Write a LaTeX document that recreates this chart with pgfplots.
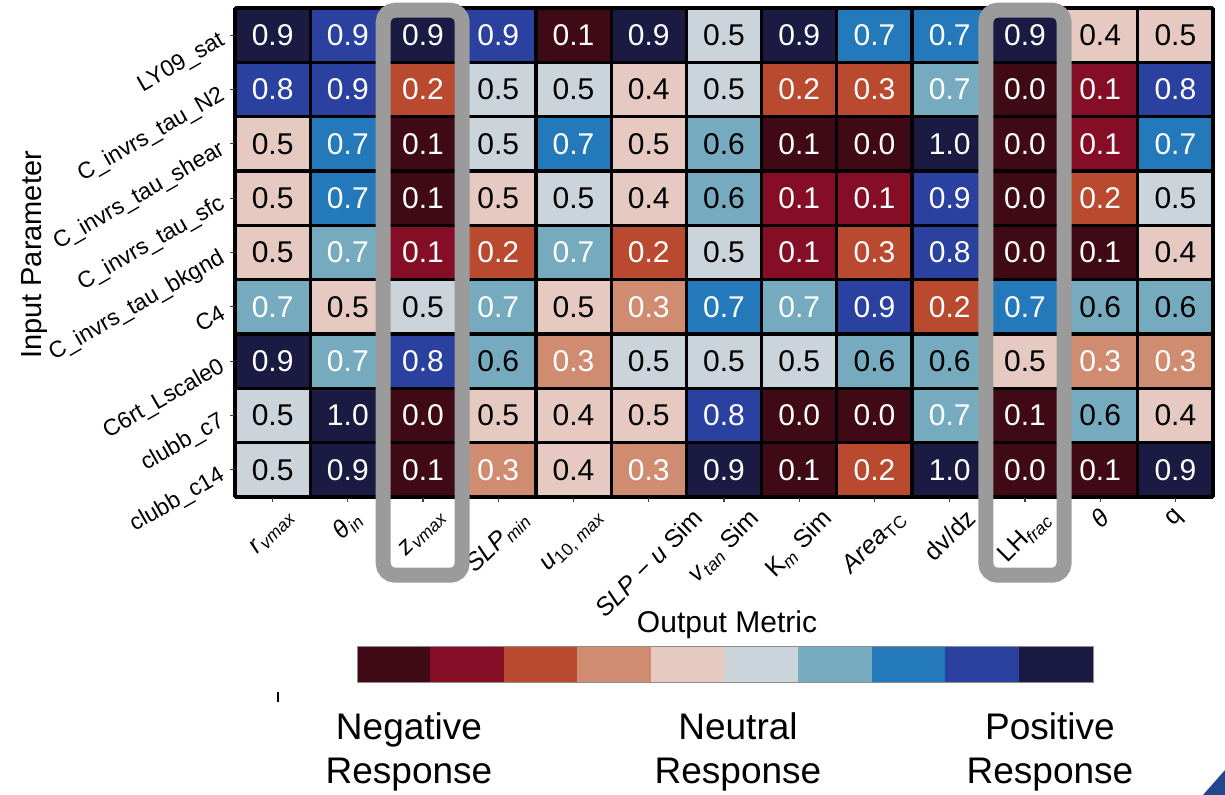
\documentclass[border=0pt]{standalone}
\usepackage{pgfplots}
\usepackage{pgfplotstable}
\pgfplotsset{compat=1.18}
\usepackage{fontspec}
\setmainfont{Liberation Sans}
\definecolor{hl}{RGB}{155,155,155}
\definecolor{tri}{RGB}{35,70,140}
\newcommand\R[1]{\rotatebox{45}{#1}}

% x = output metric index, y = input parameter index, c = colour class (0..9), lab = shown value, w = 1 for white text
\pgfplotstableread{
x y c lab w
0 0 9 0.9 1
1 0 8 0.9 1
2 0 9 0.9 1
3 0 8 0.9 1
4 0 0 0.1 1
5 0 9 0.9 1
6 0 5 0.5 0
7 0 9 0.9 1
8 0 7 0.7 1
9 0 7 0.7 1
10 0 9 0.9 1
11 0 4 0.4 0
12 0 4 0.5 0
0 1 8 0.8 1
1 1 8 0.9 1
2 1 2 0.2 1
3 1 5 0.5 0
4 1 5 0.5 0
5 1 4 0.4 0
6 1 5 0.5 0
7 1 2 0.2 1
8 1 2 0.3 1
9 1 6 0.7 1
10 1 0 0.0 1
11 1 1 0.1 1
12 1 8 0.8 1
0 2 4 0.5 0
1 2 7 0.7 1
2 2 0 0.1 1
3 2 5 0.5 0
4 2 7 0.7 1
5 2 4 0.5 0
6 2 6 0.6 0
7 2 0 0.1 1
8 2 0 0.0 1
9 2 9 1.0 1
10 2 0 0.0 1
11 2 1 0.1 1
12 2 7 0.7 1
0 3 4 0.5 0
1 3 7 0.7 1
2 3 0 0.1 1
3 3 4 0.5 0
4 3 5 0.5 0
5 3 4 0.4 0
6 3 6 0.6 0
7 3 1 0.1 1
8 3 1 0.1 1
9 3 8 0.9 1
10 3 0 0.0 1
11 3 2 0.2 1
12 3 5 0.5 0
0 4 4 0.5 0
1 4 6 0.7 1
2 4 1 0.1 1
3 4 2 0.2 1
4 4 6 0.7 1
5 4 2 0.2 1
6 4 5 0.5 0
7 4 1 0.1 1
8 4 2 0.3 1
9 4 8 0.8 1
10 4 0 0.0 1
11 4 0 0.1 1
12 4 4 0.4 0
0 5 6 0.7 1
1 5 4 0.5 0
2 5 5 0.5 0
3 5 6 0.7 1
4 5 4 0.5 0
5 5 3 0.3 1
6 5 7 0.7 1
7 5 6 0.7 1
8 5 8 0.9 1
9 5 2 0.2 1
10 5 7 0.7 1
11 5 6 0.6 0
12 5 6 0.6 0
0 6 9 0.9 1
1 6 6 0.7 1
2 6 8 0.8 1
3 6 6 0.6 0
4 6 3 0.3 1
5 6 5 0.5 0
6 6 5 0.5 0
7 6 5 0.5 0
8 6 6 0.6 0
9 6 6 0.6 0
10 6 4 0.5 0
11 6 3 0.3 1
12 6 3 0.3 1
0 7 5 0.5 0
1 7 9 1.0 1
2 7 0 0.0 1
3 7 4 0.5 0
4 7 4 0.4 0
5 7 4 0.5 0
6 7 8 0.8 1
7 7 0 0.0 1
8 7 0 0.0 1
9 7 6 0.7 1
10 7 0 0.1 1
11 7 6 0.6 0
12 7 4 0.4 0
0 8 5 0.5 0
1 8 9 0.9 1
2 8 0 0.1 1
3 8 3 0.3 1
4 8 4 0.4 0
5 8 3 0.3 1
6 8 9 0.9 1
7 8 0 0.1 1
8 8 2 0.2 1
9 8 9 1.0 1
10 8 0 0.0 1
11 8 0 0.1 1
12 8 9 0.9 1
}\cells

% colour bar: one rectangle (4 corners) per colour class
\pgfplotstableread{
x y c
-0.5 0 0
0.5 0 0
0.5 1 0
-0.5 1 0
0.5 0 1
1.5 0 1
1.5 1 1
0.5 1 1
1.5 0 2
2.5 0 2
2.5 1 2
1.5 1 2
2.5 0 3
3.5 0 3
3.5 1 3
2.5 1 3
3.5 0 4
4.5 0 4
4.5 1 4
3.5 1 4
4.5 0 5
5.5 0 5
5.5 1 5
4.5 1 5
5.5 0 6
6.5 0 6
6.5 1 6
5.5 1 6
6.5 0 7
7.5 0 7
7.5 1 7
6.5 1 7
7.5 0 8
8.5 0 8
8.5 1 8
7.5 1 8
8.5 0 9
9.5 0 9
9.5 1 9
8.5 1 9
}\cbar

\pgfplotsset{
  respmap/.style={
    colormap={resp}{rgb255=(63,10,21) rgb255=(134,13,38) rgb255=(185,73,47)
      rgb255=(208,140,113) rgb255=(230,202,194) rgb255=(202,212,218)
      rgb255=(118,171,191) rgb255=(36,121,186) rgb255=(42,65,160) rgb255=(26,26,66)},
    point meta min=0, point meta max=9,
  }
}

\begin{document}
\begin{tikzpicture}
\useasboundingbox (0,0) rectangle (612.5pt,397.5pt);

\begin{axis}[
  respmap,
  at={(117.5pt,149pt)}, anchor=south west,
  width=489pt, height=244.5pt, scale only axis,
  xmin=-0.5, xmax=12.5, ymin=-0.5, ymax=8.5, y dir=reverse,
  xtick={0,...,12}, ytick={0,...,8},
  xtick pos=left, ytick pos=left,
  tick align=outside, major tick length=2.5pt,
  tick style={black!75, line width=0.6pt},
  minor xtick={-0.5,0.5,...,12.5}, minor ytick={-0.5,0.5,...,8.5},
  minor tick length=0pt,
  xminorgrids, yminorgrids,
  minor grid style={black, line width=1.6pt},
  axis line style={black, line width=1pt},
  axis on top,
  xticklabels={
    {\R{\textit{r}\textsubscript{\textit{vmax}}}},
    {\R{\textit{θ}\textsubscript{\textit{in}}}},
    {\R{\textit{z}\textsubscript{\textit{vmax}}}},
    {\R{\textit{SLP}\textsubscript{\textit{min}}}},
    {\R{\textit{u}\textsubscript{10, \textit{max}}}},
    {\R{\textit{SLP} − \textit{u} Sim}},
    {\R{\textit{v}\textsubscript{\textit{tan}} Sim}},
    {\R{K\textsubscript{\textit{m}} Sim}},
    {\R{\textit{Area}\textsubscript{TC}}},
    {\R{dv/dz}},
    {\R{LH\textsubscript{\textit{frac}}}},
    {\R{\textit{θ}}},
    {\R{q}}},
  yticklabels={LY09\_sat, C\_invrs\_tau\_N2, C\_invrs\_tau\_shear, C\_invrs\_tau\_sfc,
    C\_invrs\_tau\_bkgnd, C4, C6rt\_Lscale0, clubb\_c7, clubb\_c14},
  xticklabel style={anchor=north, inner sep=1pt, yshift=-1.5pt, font=\fontsize{12.5}{14}\selectfont},
  yticklabel style={rotate=30, anchor=east, inner sep=1pt, xshift=-3pt, font=\fontsize{11.5}{13}\selectfont},
]
\addplot[matrix plot*, mesh/cols=13, mesh/rows=9, point meta=explicit]
  table[x=x, y=y, meta=c]{\cells};
\addplot[only marks, mark=none, point meta=explicit symbolic,
  visualization depends on={\thisrow{w} \as \wt},
  nodes near coords={\ifdim\wt pt>0.5pt\color{white}\else\color{black}\fi\pgfplotspointmeta},
  nodes near coords style={anchor=center, inner sep=0pt,
    font=\fontsize{15}{17}\selectfont}]
  table[x=x, y=y, meta=lab]{\cells};
\coordinate (a1) at (axis cs:1.47,-0.46);
\coordinate (a2) at (axis cs:2.52,9.94);
\coordinate (b1) at (axis cs:9.48,-0.46);
\coordinate (b2) at (axis cs:10.52,9.94);
\end{axis}

\draw[hl, line width=7.5pt, rounded corners=6pt] (a1) rectangle (a2);
\draw[hl, line width=7.5pt, rounded corners=6pt] (b1) rectangle (b2);

\begin{axis}[
  respmap,
  at={(178.5pt,56pt)}, anchor=south west,
  width=368pt, height=18pt, scale only axis,
  xmin=-0.5, xmax=9.5, ymin=0, ymax=1,
  ticks=none,
  axis line style={black!45, line width=0.5pt},
  axis on top,
]
\addplot[patch, patch type=rectangle, shader=flat, point meta=explicit]
  table[x=x, y=y, meta=c]{\cbar};
\end{axis}

\node[rotate=90, font=\fontsize{14.5}{16}\selectfont] at (17.5pt,270pt) {Input Parameter};
\node[font=\fontsize{15}{17}\selectfont] at (363.5pt,85pt) {Output Metric};

\node[anchor=base, font=\fontsize{18.5}{21}\selectfont, inner sep=0pt] at (204.5pt,27.5pt) {Negative};
\node[anchor=base, font=\fontsize{18.5}{21}\selectfont, inner sep=0pt] at (204.5pt,5.5pt) {Response};
\node[anchor=base, font=\fontsize{18.5}{21}\selectfont, inner sep=0pt] at (369pt,27.5pt) {Neutral};
\node[anchor=base, font=\fontsize{18.5}{21}\selectfont, inner sep=0pt] at (369pt,5.5pt) {Response};
\node[anchor=base, font=\fontsize{18.5}{21}\selectfont, inner sep=0pt] at (525pt,27.5pt) {Positive};
\node[anchor=base, font=\fontsize{18.5}{21}\selectfont, inner sep=0pt] at (525pt,5.5pt) {Response};

\draw[black, line width=0.8pt] (139pt,46.5pt) -- (139pt,51.5pt);
\fill[tri] (601.5pt,0pt) -- (612.5pt,12.5pt) -- (612.5pt,0pt) -- cycle;
\end{tikzpicture}
\end{document}
